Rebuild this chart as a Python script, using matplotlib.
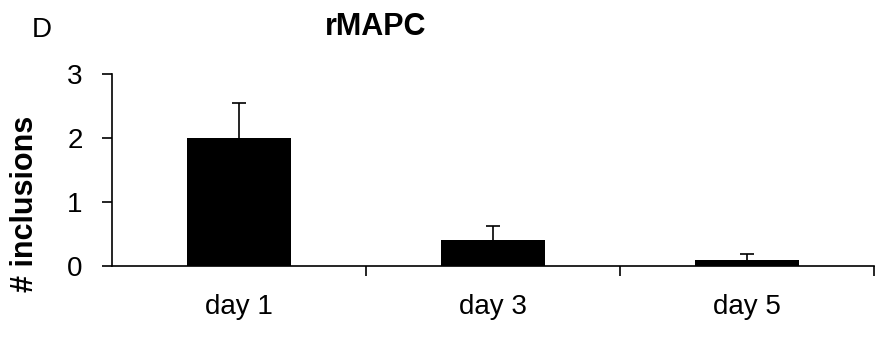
import matplotlib
matplotlib.use("Agg")
import matplotlib.pyplot as plt
import numpy as np

# --- Data ---
days = ['day 1', 'day 3', 'day 5']
inclusions = [2.0, 0.4, 0.1]
inclusions_err = [0.54, 0.22, 0.09]
y_ticks = [0, 1, 2, 3]

plt.rcParams['font.family'] = ['Liberation Sans', 'DejaVu Sans']

fig = plt.figure(figsize=(8.75, 3.39), dpi=100)
ax = fig.add_axes([112 / 875, 1 - 266 / 339, (874 - 112) / 875, (266 - 74) / 339])

x = np.arange(len(days)) + 0.5
ax.bar(x, inclusions, width=0.41, color='black', zorder=2)
eb = ax.errorbar(x, inclusions, yerr=[np.zeros(len(days)), inclusions_err],
                 fmt='none', ecolor='black', elinewidth=1.2, capsize=5,
                 capthick=1.2, zorder=1)
# only the upper whisker is shown
eb[1][0].set_visible(False)

ax.set_xlim(0, len(days))
ax.set_ylim(0, 3)

# boundaries get ticks, category names sit in between
ax.set_xticks(np.arange(1, len(days) + 1))
ax.set_xticklabels([])
ax.set_xticks(x, minor=True)
ax.set_xticklabels(days, minor=True, fontsize=20)
ax.tick_params(axis='x', which='major', direction='out', length=7, width=1.2)
ax.tick_params(axis='x', which='minor', length=0, pad=20)

ax.set_yticks(y_ticks)
ax.set_yticklabels([str(t) for t in y_ticks], fontsize=20)
ax.tick_params(axis='y', direction='out', length=7, width=1.2, pad=14)

for s in ['top', 'right']:
    ax.spines[s].set_visible(False)
for s in ['left', 'bottom']:
    ax.spines[s].set_linewidth(1.2)

fig.text(25 / 875, 1 - 204 / 339, '# inclusions', rotation=90, fontsize=22,
         fontweight='bold', ha='center', va='center')
fig.text(376 / 875, 1 - 27 / 339, 'rMAPC', fontsize=22, fontweight='bold',
         ha='center', va='center')
fig.text(42 / 875, 1 - 30 / 339, 'D', fontsize=20, ha='center', va='center')

plt.savefig('out.png', dpi=100)
plt.close()
